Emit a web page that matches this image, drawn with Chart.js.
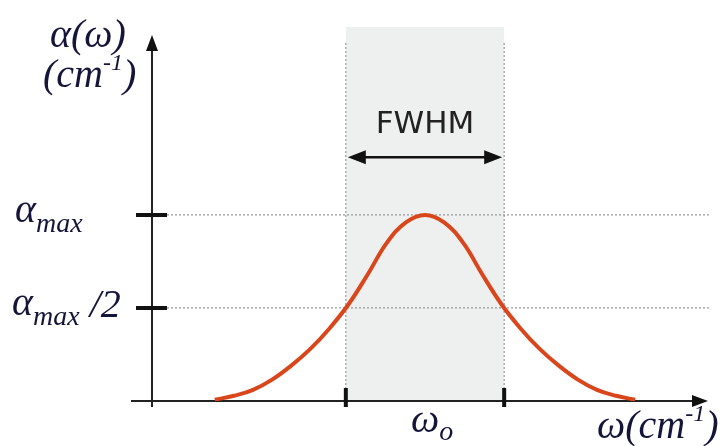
<!DOCTYPE html>
<html lang="en">
<head>
<meta charset="UTF-8">
<title>Absorption line FWHM</title>
<script src="https://cdn.jsdelivr.net/npm/chart.js@4.4.2/dist/chart.umd.min.js"></script>
<style>
  body { margin: 0; padding: 0; background: #fff; }
  #wrap { width: 727px; height: 446px; }
</style>
</head>
<body>
<div id="wrap"><canvas id="lineChart" width="727" height="446"></canvas></div>
<script>
// curve (omega in arbitrary units, alpha relative to alpha max)
const omega = [1.15, 1.5, 1.85, 2.2, 2.55, 2.9, 3.25, 3.6, 3.95, 4.3, 4.65, 5.0,
               5.35, 5.7, 6.05, 6.4, 6.75, 7.1, 7.45, 7.8, 8.15, 8.5, 8.85];
const alpha = [0.007, 0.028, 0.06, 0.115, 0.19, 0.28, 0.39, 0.52, 0.68, 0.85, 0.96, 1.0,
               0.96, 0.85, 0.68, 0.52, 0.39, 0.28, 0.19, 0.115, 0.06, 0.028, 0.007];
// half maximum edges on omega axis
const fwhmEdges = [3.55, 6.45];
// y tick values and labels
const yTickValues = [1, 0.5];
const yTickLabels = [['α', 'max', ''], ['α', 'max', ' /2']];
const xMax = 10.22;
const yMax = 2.01;
const fwhmArrowY = 1.31;

const labelColor = '#15153a';
const serif = 'italic 40px "Liberation Serif"';
const serifSmall = 'italic 28px "Liberation Serif"';
const serifSup = 'italic 24px "Liberation Serif"';

// draw a run of text pieces [text, font, dy] left to right
function drawRun(ctx, x, y, pieces) {
    for (const p of pieces) {
        ctx.font = p[1];
        ctx.fillText(p[0], x, y + p[2]);
        x += ctx.measureText(p[0]).width;
    }
}

function arrowHead(ctx, x, y, dir, len, half) {
    // dir: 'up', 'right', 'left'
    ctx.beginPath();
    if (dir === 'up') {
        ctx.moveTo(x, y); ctx.lineTo(x - half, y + len); ctx.lineTo(x + half, y + len);
    } else if (dir === 'right') {
        ctx.moveTo(x, y); ctx.lineTo(x - len, y - half); ctx.lineTo(x - len, y + half);
    } else {
        ctx.moveTo(x, y); ctx.lineTo(x + len, y - half); ctx.lineTo(x + len, y + half);
    }
    ctx.closePath();
    ctx.fill();
}

const sketchPlugin = {
    id: 'sketch',
    beforeDatasetsDraw(chart) {
        const ctx = chart.ctx;
        const xs = chart.scales.x, ys = chart.scales.y;
        const area = chart.chartArea;
        const x0 = xs.getPixelForValue(0), y0 = ys.getPixelForValue(0);
        const xl = xs.getPixelForValue(fwhmEdges[0]), xr = xs.getPixelForValue(fwhmEdges[1]);
        ctx.save();
        // shaded band
        ctx.fillStyle = '#eeefef';
        ctx.fillRect(xl, area.top, xr - xl, y0 - area.top);
        // dotted lines
        ctx.strokeStyle = '#9a9a9a';
        ctx.lineWidth = 1.2;
        ctx.setLineDash([2, 2]);
        ctx.beginPath();
        [xl, xr].forEach(x => { ctx.moveTo(x, area.top + 16); ctx.lineTo(x, y0); });
        yTickValues.forEach(v => {
            const y = ys.getPixelForValue(v);
            ctx.moveTo(x0 + 15, y); ctx.lineTo(area.right, y);
        });
        ctx.stroke();
        ctx.setLineDash([]);
        // axes
        ctx.strokeStyle = '#222';
        ctx.fillStyle = '#111';
        ctx.lineWidth = 2;
        ctx.beginPath();
        ctx.moveTo(x0, y0 + 6); ctx.lineTo(x0, area.top + 20);
        ctx.moveTo(x0 - 21, y0); ctx.lineTo(area.right - 12, y0);
        ctx.stroke();
        arrowHead(ctx, x0, area.top + 8, 'up', 16, 6);
        arrowHead(ctx, area.right - 2, y0, 'right', 16, 6);
        ctx.restore();
    },
    afterDatasetsDraw(chart) {
        const ctx = chart.ctx;
        const xs = chart.scales.x, ys = chart.scales.y;
        const x0 = xs.getPixelForValue(0), y0 = ys.getPixelForValue(0);
        const xl = xs.getPixelForValue(fwhmEdges[0]), xr = xs.getPixelForValue(fwhmEdges[1]);
        ctx.save();
        // tick marks
        ctx.strokeStyle = '#111';
        ctx.lineWidth = 4;
        ctx.beginPath();
        yTickValues.forEach(v => {
            const y = ys.getPixelForValue(v);
            ctx.moveTo(x0 - 16, y); ctx.lineTo(x0 + 15, y);
        });
        [xl, xr].forEach(x => { ctx.moveTo(x, y0 - 13); ctx.lineTo(x, y0 + 6); });
        ctx.stroke();
        // FWHM double arrow
        const ya = ys.getPixelForValue(fwhmArrowY);
        ctx.lineWidth = 2.5;
        ctx.beginPath();
        ctx.moveTo(xl + 10, ya); ctx.lineTo(xr - 10, ya);
        ctx.stroke();
        ctx.fillStyle = '#111';
        arrowHead(ctx, xl + 2, ya, 'left', 18, 7);
        arrowHead(ctx, xr - 2, ya, 'right', 18, 7);
        ctx.font = '31px "DejaVu Sans"';
        ctx.fillStyle = '#222';
        ctx.textAlign = 'center';
        ctx.fillText('FWHM', (xl + xr) / 2, ya - 24);
        ctx.textAlign = 'left';
        // math labels
        ctx.fillStyle = labelColor;
        drawRun(ctx, 50, 47, [['α(ω)', serif, 0]]);
        drawRun(ctx, 43, 87, [['(cm', serif, 0], ['-1', serifSup, -17], [')', serif, 0]]);
        yTickValues.forEach((v, i) => {
            const y = ys.getPixelForValue(v) + 7;
            const lab = yTickLabels[i];
            drawRun(ctx, i === 0 ? 15 : 12, y, [[lab[0], serif, 0], [lab[1], serifSmall, 10], [lab[2], serif, 2]]);
        });
        const xw = xs.getPixelForValue(5);
        drawRun(ctx, xw - 14, 432, [['ω', serif, 0], ['o', serifSmall, 8]]);
        drawRun(ctx, 597, 438, [['ω(cm', serif, 0], ['-1', serifSup, -17], [')', serif, 0]]);
        ctx.restore();
    }
};

const ctx = document.getElementById('lineChart').getContext('2d');
const lineChart = new Chart(ctx, {
    type: 'line',
    data: {
        datasets: [{
            data: omega.map((w, i) => ({ x: w, y: alpha[i] })),
            borderColor: '#d9461c',
            borderWidth: 4,
            pointRadius: 0,
            fill: false,
            tension: 0.4
        }]
    },
    options: {
        responsive: false,
        animation: false,
        layout: { padding: { left: 152, top: 27, right: 17, bottom: 45 } },
        scales: {
            x: { type: 'linear', min: 0, max: xMax, display: false },
            y: { min: 0, max: yMax, display: false }
        },
        plugins: { legend: { display: false }, tooltip: { enabled: false } }
    },
    plugins: [sketchPlugin]
});
</script>
</body>
</html>
